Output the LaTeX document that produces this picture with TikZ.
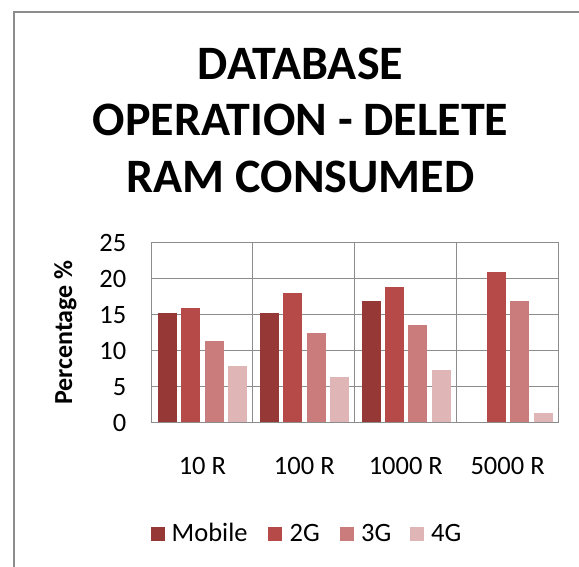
\documentclass[tikz,border=0pt]{standalone}
\usepackage{fontspec}
\setmainfont{Carlito}
\definecolor{framegray}{HTML}{8C8C8C}
\definecolor{gridgray}{HTML}{8C8C8C}
\definecolor{cMobile}{HTML}{953836}
\definecolor{cTwoG}{HTML}{B54A48}
\definecolor{cThreeG}{HTML}{C97C7B}
\definecolor{cFourG}{HTML}{E0B5B5}
\begin{document}
\begin{tikzpicture}[x=1pt,y=-1pt,
  chartframe/.style={draw=framegray, line width=1.6pt},
  gridline/.style={draw=gridgray, line width=0.9pt},
  titletext/.style={font=\fontsize{48}{56.5}\selectfont\bfseries, align=center, inner sep=0pt, anchor=base},
  ticklabel/.style={font=\fontsize{26.5}{30}\selectfont, inner sep=0pt, anchor=east},
  catlabel/.style={font=\fontsize{26.5}{30}\selectfont, inner sep=0pt, anchor=base},
  axistitle/.style={font=\fontsize{26}{30}\selectfont\bfseries, inner sep=0pt, anchor=base, rotate=90},
  legendbox/.style={minimum size=14pt, inner sep=0pt, anchor=south west},
  legendtext/.style={font=\fontsize{26.5}{30}\selectfont, inner sep=0pt, anchor=base west}]
\useasboundingbox (0,0) rectangle (579,566);
\clip (0,0) rectangle (579,566);

% outer chart frame (right and bottom edges fall outside the page)
\draw[chartframe] (14,600) -- (14,12) -- (600,12);

% title
\node[titletext] (title1) at (300.5,79.3) {DATABASE};
\node[titletext] (title2) at (300.5,135.6) {OPERATION - DELETE};
\node[titletext] (title3) at (300.5,192.1) {RAM CONSUMED};

% plot area: value v sits at y = 422.7 - 7.2 v
\foreach \v in {5,10,15,20,25}
  \draw[gridline] (151,{422.7-7.2*\v}) -- (558.6,{422.7-7.2*\v});
\foreach \x in {252.9,354.8,456.7,558.6}
  \draw[gridline] (\x,242.7) -- (\x,422.7);

% bars: group index, then Mobile / 2G / 3G / 4G values
\foreach \g/\a/\b/\c/\d in {0/15.3/15.9/11.4/7.9, 1/15.2/18.0/12.5/6.3,
                            2/16.9/18.9/13.6/7.3, 3/0/21.0/16.9/1.3} {
  \pgfmathsetmacro{\gx}{151+101.9*\g+7.2}
  \ifdim\a pt>0pt
    \fill[cMobile] (\gx,422.7) rectangle ({\gx+19},{422.7-7.2*\a});
  \fi
  \fill[cTwoG] ({\gx+23.2},422.7) rectangle ({\gx+42.2},{422.7-7.2*\b});
  \fill[cThreeG] ({\gx+46.4},422.7) rectangle ({\gx+65.4},{422.7-7.2*\c});
  \fill[cFourG] ({\gx+69.6},422.7) rectangle ({\gx+88.6},{422.7-7.2*\d});
}

% axes
\draw[gridline] (151,242.7) -- (151,422.7) -- (558.6,422.7);

% y tick labels
\foreach \v in {0,5,10,15,20,25}
  \node[ticklabel] (tick\v) at (126.5,{422.7-7.2*\v}) {\v};

% y axis title
\node[axistitle] (ytitle) at (72,332.5) {Percentage \%};

% category labels
\node[catlabel] (cat1) at (202.4,474.3) {10 R};
\node[catlabel] (cat2) at (304.3,474.3) {100 R};
\node[catlabel] (cat3) at (405.8,474.3) {1000 R};
\node[catlabel] (cat4) at (507.6,474.3) {5000 R};

% legend
\node[legendbox, fill=cMobile] (lgMobile) at (150.7,540.7) {};
\node[legendtext] (lgMobileText) at (171.5,541.7) {Mobile};
\node[legendbox, fill=cTwoG] (lgTwoG) at (267.3,540.7) {};
\node[legendtext] (lgTwoGText) at (289.5,541.7) {2G};
\node[legendbox, fill=cThreeG] (lgThreeG) at (339.3,540.7) {};
\node[legendtext] (lgThreeGText) at (361,541.7) {3G};
\node[legendbox, fill=cFourG] (lgFourG) at (409.3,540.7) {};
\node[legendtext] (lgFourGText) at (431,541.7) {4G};
\end{tikzpicture}
\end{document}
